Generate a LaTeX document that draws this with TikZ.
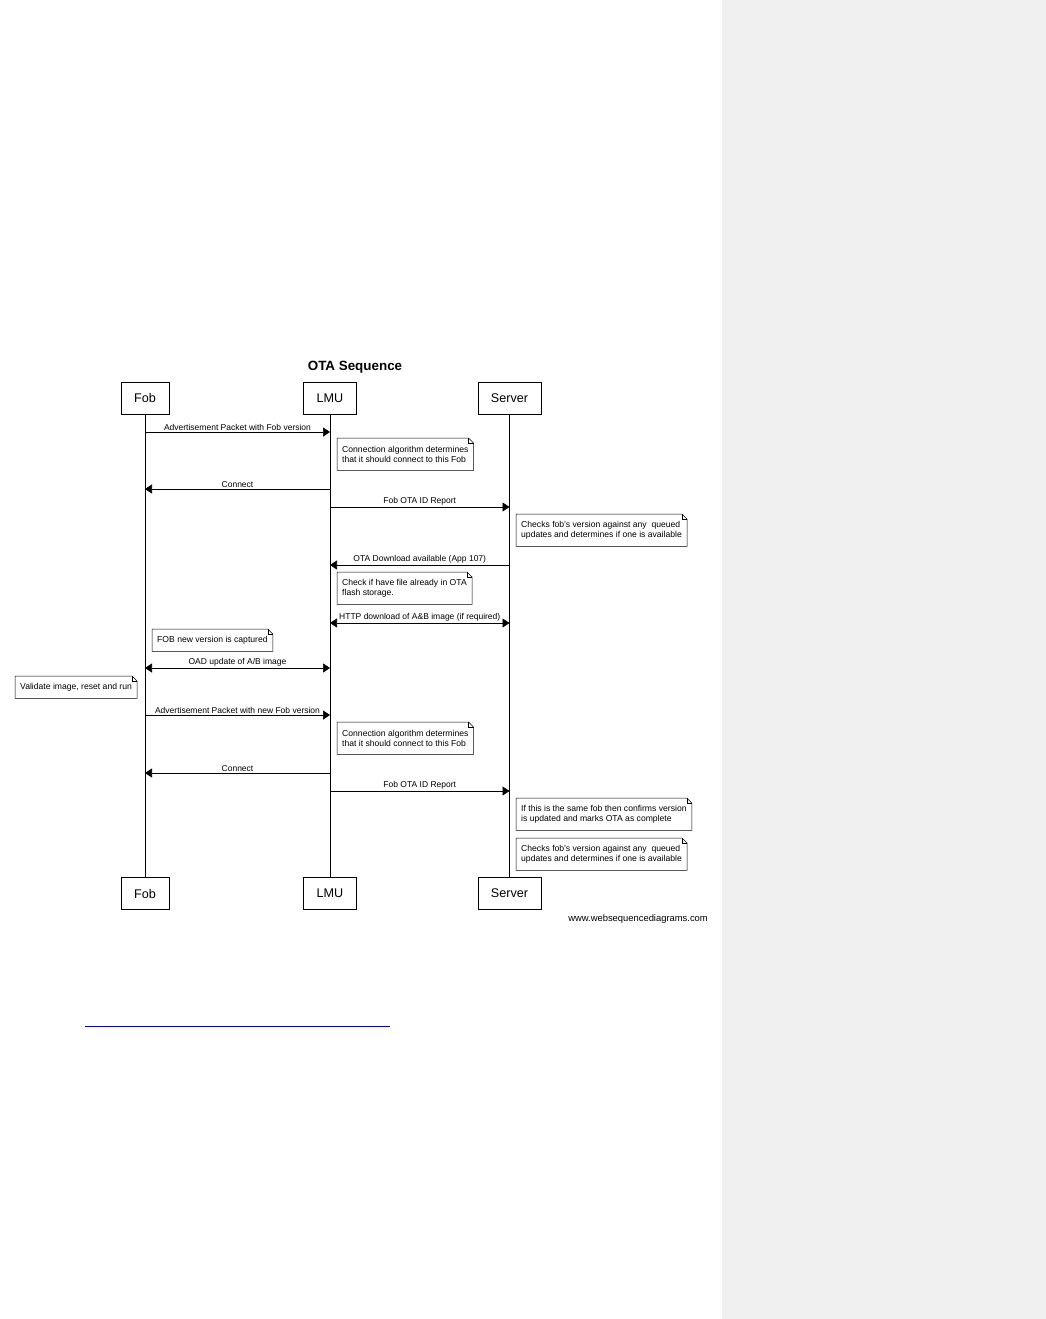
\documentclass[tikz,border=0pt]{standalone}
\usepackage{fontspec}
\setmainfont{Liberation Sans}
\usepackage{tikz}
\usetikzlibrary{arrows.meta}
\usetikzlibrary{positioning}

\definecolor{pagegrey}{RGB}{240,240,240}
\definecolor{ruleblue}{RGB}{0,0,205}

\newcommand{\dogear}[1]{%
  \draw[line width=0.5pt] (#1.south west) -- (#1.north west) -- ([xshift=-5pt]#1.north east)
    -- ([yshift=-5pt]#1.north east) -- (#1.south east) -- cycle;
  \draw[line width=0.5pt] ([xshift=-5pt]#1.north east) -- ([xshift=-5pt,yshift=-5pt]#1.north east)
    -- ([yshift=-5pt]#1.north east);}

\begin{document}
\begin{tikzpicture}[x=1pt, y=-1pt,
    actor/.style={draw, line width=0.6pt, minimum height=32pt, inner xsep=13pt, font=\fontsize{12.6}{14}\selectfont},
    memo/.style={anchor=north west, align=left, inner xsep=5pt, inner ysep=2pt, minimum height=32pt, font=\fontsize{8.6}{10.5}\selectfont},
    msg/.style={line width=0.6pt, -{Triangle[length=7pt,width=9pt]}},
    twoway/.style={line width=0.6pt, {Triangle[length=7pt,width=9pt]}-{Triangle[length=7pt,width=9pt]}},
    say/.style={midway, above, inner sep=1.5pt, font=\fontsize{8.5}{9}\selectfont}]
        \useasboundingbox (0,0) rectangle (1046,1319);
        \fill[pagegrey] (722,0) rectangle (1046,1319);

        \node[font=\bfseries\fontsize{13.4}{15}\selectfont] (title) at (355,367.5) {OTA Sequence};

        \node[actor] (fob) at (145,398) {Fob};
        \node[actor] (lmu) at (330,398) {LMU};
        \node[actor] (server) at (509.5,398) {Server};
        \node[actor] (fobend) at (145,893.5) {Fob};
        \node[actor] (lmuend) at (330,893.5) {LMU};
        \node[actor] (serverend) at (509.5,893.5) {Server};
        \draw[line width=0.6pt] (fob) -- (fobend);
        \draw[line width=0.6pt] (lmu) -- (lmuend);
        \draw[line width=0.6pt] (server) -- (serverend);

        \coordinate (m1) at (0,432);
        \coordinate (m2) at (0,489);
        \coordinate (m3) at (0,507);
        \coordinate (m4) at (0,565);
        \coordinate (m5) at (0,623);
        \coordinate (m6) at (0,668);
        \coordinate (m7) at (0,715);
        \coordinate (m8) at (0,773);
        \coordinate (m9) at (0,791);

        \draw[msg] (fob |- m1) -- (lmu |- m1) node[say] {Advertisement Packet with Fob version};
        \node[memo] (connect1) at (337,438) {Connection algorithm determines\\that it should connect to this Fob};
        \dogear{connect1}
        \draw[msg] (lmu |- m2) -- (fob |- m2) node[say] {Connect};
        \draw[msg] (lmu |- m3) -- (server |- m3) node[say] {Fob OTA ID Report};
        \node[memo] (check1) at (516,514) {Checks fob's version against any \ queued\\updates and determines if one is available};
        \dogear{check1}
        \draw[msg] (server |- m4) -- (lmu |- m4) node[say] {OTA Download available (App 107)};
        \node[memo] (flash) at (337,572) {Check if have file already in OTA\\flash storage.};
        \dogear{flash}
        \draw[twoway] (lmu |- m5) -- (server |- m5) node[say] {HTTP download of A\&B image (if required)};
        \node[memo, minimum height=22pt] (captured) at (152,629) {FOB new version is captured};
        \dogear{captured}
        \draw[twoway] (fob |- m6) -- (lmu |- m6) node[say] {OAD update of A/B image};
        \node[memo, minimum height=22pt] (validate) at (15,676) {Validate image, reset and run};
        \dogear{validate}
        \draw[msg] (fob |- m7) -- (lmu |- m7) node[say] {Advertisement Packet with new Fob version};
        \node[memo] (connect2) at (337,722) {Connection algorithm determines\\that it should connect to this Fob};
        \dogear{connect2}
        \draw[msg] (lmu |- m8) -- (fob |- m8) node[say] {Connect};
        \draw[msg] (lmu |- m9) -- (server |- m9) node[say] {Fob OTA ID Report};
        \node[memo] (same) at (516,798) {If this is the same fob then confirms version\\is updated and marks OTA as complete};
        \dogear{same}
        \node[memo] (check2) at (516,838) {Checks fob's version against any \ queued\\updates and determines if one is available};
        \dogear{check2}

        \node[anchor=east, inner sep=0pt, font=\fontsize{9.4}{10}\selectfont] (credit) at (708,919) {www.websequencediagrams.com};

        \coordinate (ruleleft) at (85,1026);
        \coordinate (ruleright) at (390,1026);
        \draw[ruleblue, line width=0.8pt] (ruleleft) -- (ruleright);
      \end{tikzpicture}
\end{document}
